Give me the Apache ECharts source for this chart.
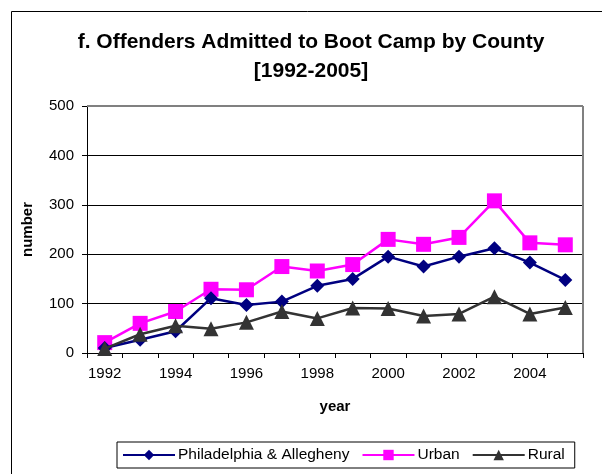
<!DOCTYPE html>
<html>
<head>
<meta charset="utf-8">
<script src="https://cdn.jsdelivr.net/npm/echarts@6/dist/echarts.min.js"></script>
<style>html,body{margin:0;padding:0;background:#fff}#c{width:602px;height:474px}</style>
</head>
<body>
<div id="c"></div>
<script>
var years = ['1992','1993','1994','1995','1996','1997','1998','1999','2000','2001','2002','2003','2004','2005'];
var philly = [10, 27, 44, 111, 97, 104, 136, 150, 195, 175, 195, 212, 183, 148];
var urban = [21, 60, 84, 129, 128, 175, 166, 179, 230, 220, 234, 308, 223, 219];
var rural = [9, 38, 55, 49, 62, 84, 70, 91, 90, 75, 79, 114, 79, 92];
var yTicks = [0, 100, 200, 300, 400, 500];

var font = 'Liberation Sans, Arial, sans-serif';
var chart = echarts.init(document.getElementById('c'));
chart.setOption({
  animation: false,
  backgroundColor: '#fff',
  graphic: [
    {type: 'rect', shape: {x: 11.5, y: 11.5, width: 700, height: 600}, style: {fill: 'none', stroke: '#000', lineWidth: 1}, z: -1},
    {type: 'line', shape: {x1: 87, y1: 106, x2: 583, y2: 106}, style: {stroke: '#808080', lineWidth: 2}, z: 5},
    {type: 'line', shape: {x1: 583, y1: 106, x2: 583, y2: 353}, style: {stroke: '#808080', lineWidth: 2}, z: 5}
  ],
  title: {
    text: 'f. Offenders Admitted to Boot Camp by County\n[1992-2005]',
    left: 306, top: 23, textAlign: 'center',
    textStyle: {fontFamily: font, fontSize: 21, fontWeight: 'bold', color: '#000', lineHeight: 29}
  },
  legend: {
    left: 117, top: 442, width: 456, height: 28,
    padding: [5, 10, 5, 5],
    itemGap: 12, itemWidth: 52, itemHeight: 13,
    borderColor: '#000', borderWidth: 1,
    textStyle: {fontFamily: font, fontSize: 15.5, color: '#000', padding: [0, 0, 0, -2]},
    data: ['Philadelphia & Allegheny', 'Urban', 'Rural']
  },
  grid: {left: 87, right: 19, top: 106, bottom: 121, containLabel: false},
  xAxis: {
    type: 'category', data: years, boundaryGap: true,
    name: 'year', nameLocation: 'middle', nameGap: 46,
    nameTextStyle: {fontFamily: font, fontSize: 15, fontWeight: 'bold', color: '#000'},
    axisLine: {lineStyle: {color: '#000', width: 1}},
    axisTick: {show: true, interval: 0, length: 5, lineStyle: {color: '#000'}},
    axisLabel: {interval: 1, margin: 13, fontFamily: font, fontSize: 15, color: '#000'},
    splitLine: {show: false}
  },
  yAxis: {
    type: 'value', min: yTicks[0], max: yTicks[yTicks.length - 1], interval: 100,
    name: 'number', nameLocation: 'middle', nameGap: 52,
    nameTextStyle: {fontFamily: font, fontSize: 15, fontWeight: 'bold', color: '#000'},
    axisLine: {show: true, lineStyle: {color: '#000', width: 1}},
    axisTick: {show: true, length: 5, lineStyle: {color: '#000'}},
    axisLabel: {margin: 13, fontFamily: font, fontSize: 15, color: '#000'},
    splitLine: {show: true, lineStyle: {color: '#000', width: 1}}
  },
  series: [
    {name: 'Philadelphia & Allegheny', type: 'line', data: philly, symbol: 'diamond', symbolSize: 14,
     itemStyle: {color: '#000080'}, lineStyle: {color: '#000080', width: 2.5}, z: 3},
    {name: 'Urban', type: 'line', data: urban, symbol: 'rect', symbolSize: 15,
     itemStyle: {color: '#FF00FF'}, lineStyle: {color: '#FF00FF', width: 2.5}, z: 2},
    {name: 'Rural', type: 'line', data: rural, symbol: 'triangle', symbolSize: 15,
     itemStyle: {color: '#333333'}, lineStyle: {color: '#333333', width: 2.5}, z: 4}
  ]
});
</script>
</body>
</html>
